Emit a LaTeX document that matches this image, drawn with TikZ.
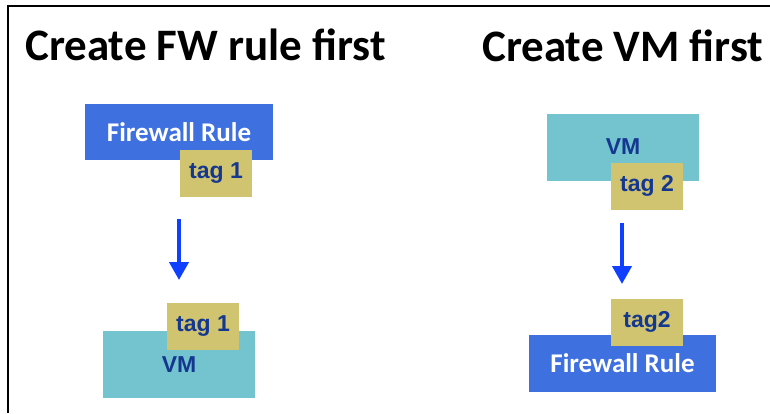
\documentclass[tikz,border=0pt]{standalone}
\usepackage{fontspec}
\usetikzlibrary{arrows.meta}
\newfontfamily\titlefont{Carlito}
\newfontfamily\tagfont{Liberation Sans}
\definecolor{fwblue}{RGB}{63,112,224}
\definecolor{vmteal}{RGB}{116,196,208}
\definecolor{tagkhaki}{RGB}{208,196,112}
\definecolor{navy}{RGB}{20,55,143}
\definecolor{arrowblue}{RGB}{15,63,255}
\tikzset{
  titletext/.style={anchor=base west,inner sep=0pt,font=\titlefont\bfseries\fontsize{45}{50}\selectfont},
  fwbox/.style={fill=fwblue,text=white,inner sep=0pt,minimum width=188pt,minimum height=56pt,font=\titlefont\bfseries\fontsize{27}{30}\selectfont},
  vmbox/.style={fill=vmteal,text=navy,inner sep=0pt,minimum width=152pt,minimum height=67pt,font=\tagfont\bfseries\fontsize{23}{26}\selectfont},
  tagbox/.style={fill=tagkhaki,text=navy,inner sep=0pt,minimum width=72pt,minimum height=47pt,font=\tagfont\bfseries\fontsize{23}{26}\selectfont},
  flow/.style={draw=arrowblue,line width=4pt,-{Triangle[width=19pt,length=18pt]}}
}
\begin{document}
\begin{tikzpicture}[x=1pt,y=-1pt]
\useasboundingbox (0,0) rectangle (770,413);
\fill[white] (0,0) rectangle (770,413);
\coordinate (bl) at (8,413);
\coordinate (tl) at (8,6);
\coordinate (tr) at (770,6);
\draw[line width=2.5pt,black] (bl) -- (tl) -- (tr);
\node[titletext] (t1) at (25,60) {Create FW rule first};
\node[titletext] (t2) at (482,61) {Create VM first};
% left column
\node[fwbox] (fw1) at (179,132) {Firewall Rule};
\node[tagbox] (tg1) at (216,173) {tag 1};
\coordinate (a1s) at (179,219);
\coordinate (a1e) at (179,280);
\draw[flow] (a1s) -- (a1e);
\node[vmbox] (vm1) at (179,364.5) {VM};
\node[tagbox] (tg1b) at (203,326) {tag 1};
% right column
\node[vmbox] (vm2) at (623,147) {VM};
\node[tagbox] (tg2) at (647,186) {tag 2};
\coordinate (a2s) at (622,223);
\coordinate (a2e) at (622,284);
\draw[flow] (a2s) -- (a2e);
\node[fwbox,minimum width=187pt,minimum height=57pt] (fw2) at (622.5,363.5) {Firewall Rule};
\node[tagbox] (tg2b) at (647,322) {tag2};
\end{tikzpicture}
\end{document}
